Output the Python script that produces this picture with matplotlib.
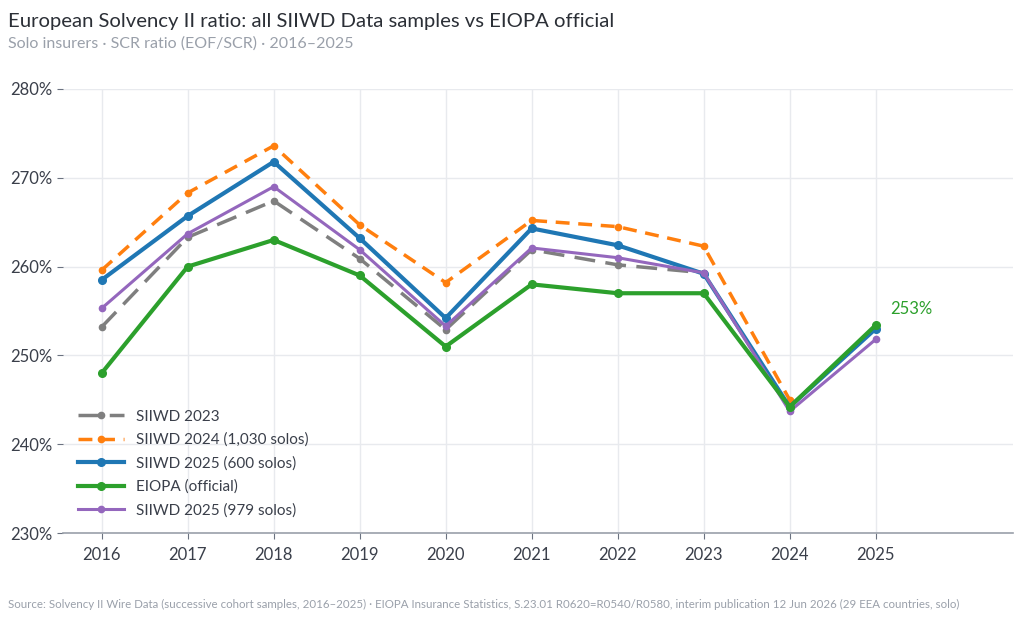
import matplotlib
matplotlib.use("Agg")
import matplotlib.pyplot as plt

# Data (SCR ratio %)
years = [2016, 2017, 2018, 2019, 2020, 2021, 2022, 2023, 2024, 2025]
siiwd_2023 = [253.2, 263.3, 267.4, 260.9, 252.9, 261.9, 260.2, 259.3]
siiwd_2024 = [259.6, 268.3, 273.6, 264.7, 258.2, 265.2, 264.5, 262.3, 245.0]
siiwd_2025_600 = [258.5, 265.7, 271.8, 263.2, 254.2, 264.3, 262.4, 259.2, 244.2, 253.0]
eiopa = [248.0, 260.0, 263.0, 259.0, 251.0, 258.0, 257.0, 257.0, 244.2, 253.4]
siiwd_2025_979 = [255.3, 263.7, 269.0, 261.9, 253.3, 262.1, 261.0, 259.3, 243.7, 251.8]
yticks = [230, 240, 250, 260, 270, 280]

GREY = "#7f7f7f"
ORANGE = "#ff7f0e"
BLUE = "#1f77b4"
GREEN = "#2ca02c"
PURPLE = "#9467bd"
TEXT = "#3a3f4a"
MUTED = "#9aa0aa"
GRID = "#e8eaee"

plt.rcParams['font.family'] = ['Lato', 'DejaVu Sans']

fig = plt.figure(figsize=(10.24, 6.21), dpi=100)
ax = fig.add_axes([0.0615, 0.1417, 0.928, 0.715])

ax.plot(years[:8], siiwd_2023, color=GREY, lw=2.5, ls=(0, (6, 3)), marker="o", ms=4.5,
        label="SIIWD 2023", zorder=3)
ax.plot(years[:9], siiwd_2024, color=ORANGE, lw=2.5, ls=(0, (4, 2.5)), marker="o", ms=4.5,
        label="SIIWD 2024 (1,030 solos)", zorder=3)
ax.plot(years, siiwd_2025_600, color=BLUE, lw=3, marker="o", ms=5.5,
        label="SIIWD 2025 (600 solos)", zorder=4)
ax.plot(years, eiopa, color=GREEN, lw=3, marker="o", ms=5.5,
        label="EIOPA (official)", zorder=5)
ax.plot(years, siiwd_2025_979, color=PURPLE, lw=2.2, marker="o", ms=4.5,
        label="SIIWD 2025 (979 solos)", zorder=4)

ax.text(years[-1] + 0.17, eiopa[-1] + 0.9, "253%", color=GREEN, fontsize=12,
        ha="left", va="bottom")

ax.set_xlim(2015.55, 2026.6)
ax.set_ylim(230, 280)
ax.set_xticks(years)
ax.set_xticklabels([str(y) for y in years])
ax.set_yticks(yticks)
ax.set_yticklabels([f"{v}%" for v in yticks])
ax.grid(True, color=GRID, lw=1)
ax.set_axisbelow(True)
for s in ["top", "right", "left"]:
    ax.spines[s].set_visible(False)
ax.spines["bottom"].set_color("#9aa0aa")
ax.spines["bottom"].set_linewidth(1.2)
ax.tick_params(axis="both", colors="#6b7280", labelcolor=TEXT, labelsize=12, length=4)
ax.tick_params(axis="x", pad=6)

leg = ax.legend(loc="lower left", bbox_to_anchor=(0.0, 0.0), frameon=False, fontsize=11,
                handlelength=3, labelspacing=0.6, borderaxespad=0.6)
for t in leg.get_texts():
    t.set_color(TEXT)

fig.text(0.008, 0.965, "European Solvency II ratio: all SIIWD Data samples vs EIOPA official",
         fontsize=14.6, color="#2b2f36", va="center", ha="left")
fig.text(0.008, 0.93, "Solo insurers · SCR ratio (EOF/SCR) · 2016–2025",
         fontsize=11.5, color=MUTED, va="center", ha="left")
fig.text(0.008, 0.027,
         "Source: Solvency II Wire Data (successive cohort samples, 2016–2025) · EIOPA Insurance Statistics, "
         "S.23.01 R0620=R0540/R0580, interim publication 12 Jun 2026 (29 EEA countries, solo)",
         fontsize=8.3, color=MUTED, va="center", ha="left")

fig.savefig("out.png", dpi=100, facecolor="white")
